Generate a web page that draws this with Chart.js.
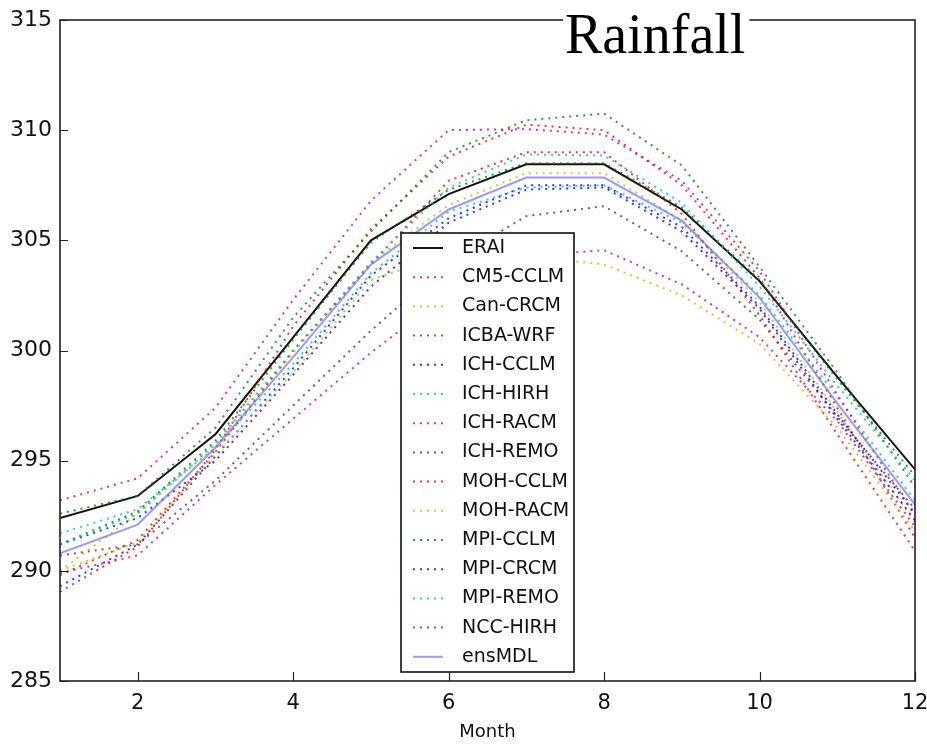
<!DOCTYPE html>
<html>
<head>
<meta charset="utf-8">
<style>
  html, body { margin: 0; padding: 0; background: #fff; }
  #wrap { width: 927px; height: 744px; }
</style>
<script src="https://cdn.jsdelivr.net/npm/chart.js@4.4.0/dist/chart.umd.min.js"></script>
</head>
<body>
<div id="wrap"><canvas id="myChart" width="927" height="744"></canvas></div>
<script>
// valeurs (mois 1..12)
const months = [1, 2, 3, 4, 5, 6, 7, 8, 9, 10, 11, 12];
const xTicks = [2, 4, 6, 8, 10, 12];
const yTicks = [285, 290, 295, 300, 305, 310, 315];

const ERAI     = [292.4, 293.4, 296.2, 300.6, 305.0, 307.1, 308.45, 308.45, 306.4, 303.15, 298.8, 294.6];
const CM5_CCLM = [289.05, 291.1, 295.5, 301.1, 305.5, 308.8, 310.25, 310.0, 307.5, 303.3, 297.4, 291.5];
const Can_CRCM = [290.0, 292.6, 295.7, 299.9, 304.0, 306.6, 308.05, 308.05, 305.9, 302.2, 297.2, 292.2];
const ICBA_WRF = [291.2, 292.7, 295.9, 300.5, 304.9, 307.3, 308.5, 308.5, 306.5, 303.2, 298.7, 294.3];
const ICH_CCLM = [289.3, 291.2, 295.2, 299.2, 303.4, 306.0, 307.5, 307.5, 305.6, 302.0, 297.1, 292.6];
const ICH_HIRH = [291.7, 292.8, 295.6, 299.4, 303.5, 306.3, 307.4, 307.5, 305.8, 302.5, 297.9, 293.2];
const ICH_RACM = [289.9, 290.7, 293.9, 296.9, 299.9, 302.6, 304.3, 304.55, 303.0, 300.6, 296.8, 292.0];
const ICH_REMO = [290.7, 291.2, 294.1, 297.5, 300.9, 304.0, 306.1, 306.55, 304.5, 301.4, 297.0, 292.8];
const MOH_CCLM = [289.8, 291.4, 295.4, 300.0, 303.9, 307.7, 309.0, 309.0, 306.2, 301.6, 296.2, 290.9];
const MOH_RACM = [290.0, 291.3, 295.3, 299.0, 303.2, 304.4, 304.3, 303.9, 302.5, 300.3, 296.5, 291.8];
const MPI_CCLM = [292.6, 293.4, 296.5, 301.5, 305.4, 309.0, 310.45, 310.75, 308.4, 303.8, 299.0, 293.8];
const MPI_CRCM = [291.2, 292.4, 295.0, 298.9, 302.9, 305.8, 307.3, 307.4, 305.4, 301.9, 296.9, 292.3];
const MPI_REMO = [291.2, 292.6, 295.8, 300.0, 304.0, 307.4, 308.9, 308.85, 306.7, 302.9, 298.4, 294.1];
const NCC_HIRH = [293.2, 294.2, 297.4, 302.3, 306.8, 310.0, 310.05, 309.8, 307.7, 303.6, 298.0, 292.5];
const ensMDL   = [290.8, 292.1, 295.6, 299.7, 303.9, 306.4, 307.85, 307.85, 305.9, 302.4, 297.6, 293.0];

const series = [
    ['ERAI', ERAI], ['CM5-CCLM', CM5_CCLM], ['Can-CRCM', Can_CRCM], ['ICBA-WRF', ICBA_WRF],
    ['ICH-CCLM', ICH_CCLM], ['ICH-HIRH', ICH_HIRH], ['ICH-RACM', ICH_RACM], ['ICH-REMO', ICH_REMO],
    ['MOH-CCLM', MOH_CCLM], ['MOH-RACM', MOH_RACM], ['MPI-CCLM', MPI_CCLM], ['MPI-CRCM', MPI_CRCM],
    ['MPI-REMO', MPI_REMO], ['NCC-HIRH', NCC_HIRH], ['ensMDL', ensMDL]
];

// couleurs façon matplotlib (cycle r, y, g, b, c, m, k)
const cycle = ['rgba(255,0,0,0.8)', 'rgba(191,191,0,0.8)', 'rgba(0,128,0,0.8)', 'rgba(0,0,255,0.8)',
               'rgba(0,191,191,0.8)', 'rgba(191,0,191,0.8)', 'rgba(0,0,0,0.6)'];

function styleFor(name, i) {
    if (name === 'ERAI') return { color: '#111', dash: [], width: 2 };
    if (name === 'ensMDL') return { color: 'rgba(110,110,255,0.7)', dash: [], width: 2 };
    return { color: cycle[(i - 1) % cycle.length], dash: [2, 5], width: 2 };
}

const datasets = series.map(([name, vals], i) => {
    const s = styleFor(name, i);
    return {
        label: name,
        data: months.map((m, k) => ({ x: m, y: vals[k] })),
        borderColor: s.color,
        borderDash: s.dash,
        borderWidth: s.width,
        borderCapStyle: 'butt',
        pointRadius: 0,
        tension: 0,
        fill: false,
        order: series.length - i
    };
});

// cadre, ticks intérieurs, légende et titre
const decor = {
    id: 'decor',
    afterDatasetsDraw(chart) {
        const { ctx, chartArea: a, scales: { x, y } } = chart;
        ctx.save();
        ctx.strokeStyle = '#222';
        ctx.lineWidth = 1.6;
        ctx.setLineDash([]);
        ctx.strokeRect(a.left, a.top, a.right - a.left, a.bottom - a.top);

        ctx.lineWidth = 1.2;
        ctx.beginPath();
        y.ticks.forEach(t => {
            const py = Math.round(y.getPixelForValue(t.value)) + 0.5;
            ctx.moveTo(a.left, py); ctx.lineTo(a.left + 8, py);
        });
        x.ticks.forEach(t => {
            const px = Math.round(x.getPixelForValue(t.value)) + 0.5;
            ctx.moveTo(px, a.bottom); ctx.lineTo(px, a.bottom - 9);
        });
        ctx.stroke();

        // légende
        const lx = 401, ly = 233, lw = 173, lh = 439;
        ctx.fillStyle = '#fff';
        ctx.fillRect(lx, ly, lw, lh);
        ctx.strokeStyle = '#111';
        ctx.lineWidth = 1.6;
        ctx.strokeRect(lx, ly, lw, lh);
        ctx.font = '19px "DejaVu Sans"';
        ctx.textBaseline = 'middle';
        chart.data.datasets.forEach((ds, i) => {
            const cy = ly + 15 + i * 29.2;
            ctx.strokeStyle = ds.borderColor;
            ctx.lineWidth = ds.borderWidth;
            ctx.setLineDash(ds.borderDash);
            ctx.beginPath();
            ctx.moveTo(413, cy); ctx.lineTo(443, cy);
            ctx.stroke();
            ctx.setLineDash([]);
            ctx.fillStyle = '#111';
            ctx.fillText(ds.label, 462, cy);
        });

        // titre
        ctx.font = '56px "Liberation Serif"';
        ctx.textBaseline = 'alphabetic';
        const tw = ctx.measureText('Rainfall').width;
        ctx.fillStyle = '#fff';
        ctx.fillRect(563, 10, tw + 6, 30);
        ctx.fillStyle = '#000';
        ctx.fillText('Rainfall', 565, 53);
        ctx.restore();
    }
};

Chart.defaults.font.family = '"DejaVu Sans", sans-serif';
Chart.defaults.color = '#111';

new Chart(document.getElementById('myChart').getContext('2d'), {
    type: 'line',
    data: { datasets: datasets },
    options: {
        responsive: false,
        animation: false,
        devicePixelRatio: 1,
        layout: { padding: { top: 20, right: 12, left: 0, bottom: 0 } },
        plugins: { legend: { display: false }, tooltip: { enabled: false } },
        scales: {
            x: {
                type: 'linear', min: 1, max: 12,
                afterBuildTicks: s => { s.ticks = xTicks.map(v => ({ value: v })); },
                afterFit: s => { s.height = 63; s.paddingLeft = 0; s.paddingRight = 0; },
                grid: { display: false, drawTicks: false },
                border: { display: false },
                ticks: { font: { size: 21 }, padding: 10, maxRotation: 0, autoSkip: false },
                title: { display: true, text: 'Month', font: { size: 18 }, padding: { top: 0, bottom: 1 } }
            },
            y: {
                min: 285, max: 315,
                afterBuildTicks: s => { s.ticks = yTicks.map(v => ({ value: v })); },
                afterFit: s => { s.width = 60; s.paddingTop = 0; s.paddingBottom = 0; },
                grid: { display: false, drawTicks: false },
                border: { display: false },
                ticks: { font: { size: 22 }, padding: 8 }
            }
        }
    },
    plugins: [decor]
});
</script>
</body>
</html>
